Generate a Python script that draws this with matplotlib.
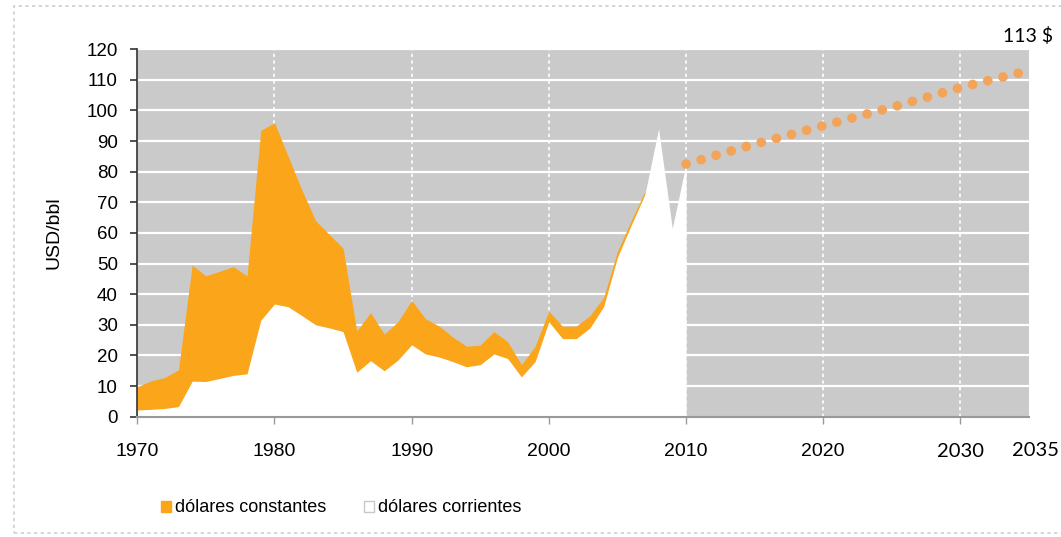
import matplotlib.pyplot as plt
from matplotlib.patches import Patch, Rectangle
import numpy as np

# precio del petróleo, USD/bbl
years_const = list(range(1970, 2008))
const_usd = [9.8, 11.7, 12.8, 15.3, 49.5, 46, 47.5, 49, 46, 93.5,
             96, 85, 74, 64, 59.5, 55, 28, 34, 27, 31,
             38, 32, 29.6, 26, 23, 23.4, 27.8, 24.5, 17, 23,
             34.5, 29.5, 29.6, 33, 39, 54, 64, 73.5]

years_curr = list(range(1970, 2011))
curr_usd = [2.2, 2.4, 2.7, 3.3, 11.6, 11.5, 12.5, 13.5, 14, 31.5,
            36.8, 35.9, 33, 30, 29, 27.8, 14.5, 18.3, 15, 18.5,
            23.5, 20.5, 19.5, 18, 16.3, 17, 20.5, 19, 13, 18,
            31, 25.5, 25.5, 29, 36, 52, 62.5, 72.5, 94, 61.5,
            82.5]

years_proj = [2010, 2015, 2020, 2025, 2030, 2035]
proj_usd = [82.5, 89, 95, 101, 107.5, 113]

xticks = [1970, 1980, 1990, 2000, 2010, 2020, 2030]

fig = plt.figure(figsize=(10.61, 5.37), dpi=100)
ax = fig.add_axes([0.1294, 0.224, 0.8404, 0.6844])
ax.set_facecolor('#CACACA')

# marco punteado alrededor
fig.patches.append(Rectangle((14/1061, 4/537), 1.2, 1 - 10/537, transform=fig.transFigure,
                             fill=False, edgecolor='#CFCFCF', linestyle=(0, (2, 2)), lw=1.2))

ax.fill_between(years_const, 0, const_usd, color='#FBA51A', lw=0, zorder=2)
ax.fill_between(years_curr, 0, curr_usd, color='white', lw=0, zorder=3)
ax.plot(years_proj, proj_usd, color='#F2A55A', lw=7, linestyle=(0, (0.01, 1.6)),
        dash_capstyle='round', zorder=4)

for y in range(10, 121, 10):
    ax.axhline(y, color='white', lw=1.6, zorder=1)
for x in xticks[1:]:
    ax.axvline(x, color='white', lw=1.2, linestyle=(0, (2, 2)), zorder=1)

ax.set_xlim(1970, 2035)
ax.set_ylim(0, 120)
ax.set_yticks(range(0, 121, 10))
ax.set_xticks(xticks)
ax.tick_params(axis='y', labelsize=13.5, length=5, width=1.2, color='#333333', pad=9)
ax.tick_params(axis='x', labelsize=14, length=5, width=1, color='#999999', pad=14)
for s in ['top', 'right']:
    ax.spines[s].set_visible(False)
ax.spines['left'].set_color('#333333')
ax.spines['left'].set_linewidth(1.2)
ax.spines['bottom'].set_color('#999999')
ax.spines['bottom'].set_linewidth(1.5)
ax.spines['left'].set_zorder(5)
ax.spines['bottom'].set_zorder(5)

for lab in ax.get_xticklabels() + ax.get_yticklabels():
    lab.set_fontfamily('Liberation Sans')
ax.get_xticklabels()[-1].set_fontfamily('Lato')
ax.get_xticklabels()[-1].set_fontsize(14.5)

ax.set_ylabel('USD/bbl', fontsize=14, family='Liberation Sans', labelpad=17)

ax.text(2035.5, -11, '2035', fontsize=14.5, family='Lato', ha='center', va='center',
        clip_on=False)
ax.text(2034.9, 124.3, '113 $', fontsize=14, family='Lato', ha='center', va='center',
        clip_on=False)

handles = [Patch(facecolor='#FBA51A', edgecolor='#FBA51A'),
           Patch(facecolor='white', edgecolor='#C8C8C8')]
fig.legend(handles, ['dólares constantes', 'dólares corrientes'], loc='center left',
           bbox_to_anchor=(145/1061, 1 - 508/537), ncol=2, frameon=False,
           prop={'family': 'Liberation Sans', 'size': 13}, handlelength=0.55,
           handleheight=0.55, handletextpad=0.2, columnspacing=2.1)

fig.savefig('out.png', dpi=100)
